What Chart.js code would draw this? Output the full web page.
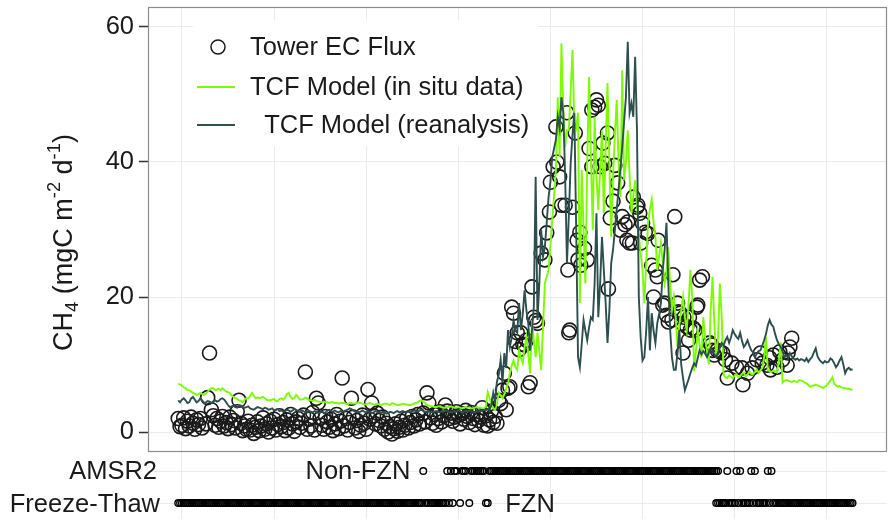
<!DOCTYPE html>
<html lang="en">
<head>
  <meta charset="UTF-8" />
  <title>CH4 flux: tower vs TCF model</title>
  <script src="https://cdn.jsdelivr.net/npm/chart.js@4.4.0/dist/chart.umd.min.js"></script>
  <style>
    html, body { margin: 0; padding: 0; background: #ffffff; }
    #fluxChart { display: block; }
  </style>
</head>
<body>
  <canvas id="fluxChart" width="896" height="521"></canvas>

  <script>
    // day index of the first model value; models are daily
    const modelStart = 0;

    // vertical grid positions (day index) and y grid values
    const gridDays = [2, 52, 102, 152, 202, 252, 302, 352];
    const fluxTicks = [0, 10, 20, 30, 40, 50, 60];

    // TCF model driven by in situ data (mgC m-2 d-1), one value per day
    const insituFlux = [
      7.2, 7.0, 6.9, 6.6, 6.5, 6.2, 6.2, 6.0, 5.8, 5.7,
      5.5, 5.6, 5.8, 5.6, 5.5, 5.7, 6.0, 6.3, 6.5, 6.5,
      6.2, 6.3, 6.4, 6.2, 6.5, 6.2, 6.0, 5.9, 5.8, 5.4,
      5.2, 5.0, 4.9, 4.7, 4.6, 4.4, 4.8, 5.0, 5.0, 5.3,
      5.8, 5.4, 5.0, 5.1, 5.0, 5.1, 5.2, 5.0, 4.8, 4.7,
      4.7, 4.8, 4.9, 4.6, 4.6, 4.9, 5.0, 4.8, 5.1, 5.6,
      5.8, 5.2, 4.9, 5.0, 5.5, 5.2, 4.8, 4.8, 4.9, 5.1,
      5.0, 4.7, 4.7, 4.6, 4.8, 4.6, 4.5, 4.5, 4.4, 4.5,
      4.4, 4.4, 4.3, 4.4, 4.4, 4.3, 4.3, 4.2, 4.3, 4.3,
      4.3, 4.2, 4.1, 4.3, 4.3, 4.2, 4.2, 4.3, 4.4, 4.3,
      4.2, 4.1, 4.1, 4.2, 4.3, 4.2, 4.1, 4.1, 4.2, 4.1,
      4.0, 4.1, 4.2, 4.2, 4.1, 4.0, 4.3, 4.2, 4.1, 4.0,
      4.0, 4.1, 4.2, 4.1, 4.1, 4.0, 4.0, 4.1, 4.2, 4.3,
      4.4, 4.6, 4.7, 4.5, 4.3, 4.0, 3.9, 3.8, 3.8, 3.7,
      3.7, 3.8, 3.8, 3.7, 3.6, 3.6, 3.7, 3.7, 3.8, 3.7,
      3.6, 3.6, 3.7, 3.6, 3.5, 3.6, 3.7, 3.6, 3.6, 3.5,
      3.5, 3.6, 3.7, 3.6, 3.6, 3.5, 3.5, 3.8, 5.9, 5.0,
      4.0, 3.5, 3.3, 4.2, 5.8, 5.4, 5.0, 5.6, 6.4, 7.2,
      8.7, 9.8, 10.6, 9.6, 9.2, 12.1, 11.0, 10.2, 12.5, 14.1,
      11.5, 8.7, 16.6, 13.5, 11.1, 14.7, 12.0, 9.2, 15.5, 22.0,
      23.0, 24.0, 27.5, 31.4, 35.0, 38.8, 49.6, 40.7, 57.6, 48.0,
      42.2, 44.7, 44.7, 50.5, 56.6, 45.8, 45.0, 47.3, 19.1, 38.8,
      30.0, 22.0, 40.0, 52.6, 40.5, 29.9, 46.7, 38.0, 32.9, 39.0,
      44.7, 32.4, 42.0, 51.7, 40.0, 28.9, 38.0, 44.0, 49.2, 40.0,
      34.8, 53.6, 37.3, 40.0, 44.7, 38.0, 32.4, 35.0, 37.3, 33.9,
      29.0, 26.5, 24.0, 19.1, 25.0, 31.0, 33.0, 34.4, 31.0, 28.9,
      24.0, 26.0, 28.0, 25.0, 22.0, 23.5, 27.4, 22.0, 18.1, 20.0,
      17.0, 12.6, 16.0, 18.0, 20.0, 17.0, 15.0, 19.0, 24.0, 20.0,
      9.0, 12.0, 15.0, 13.0, 11.0, 17.0, 14.0, 12.0, 10.0, 18.0,
      23.0, 16.0, 11.0, 14.0, 22.0, 17.0, 8.5, 8.1, 8.0, 8.4,
      8.2, 7.9, 8.4, 8.6, 8.1, 8.3, 8.6, 8.8, 8.2, 8.5,
      9.0, 8.6, 8.5, 8.9, 9.3, 8.8, 9.1, 9.5, 11.0, 14.1,
      9.2, 9.0, 8.9, 9.1, 9.0, 8.8, 10.5, 13.3, 7.3, 7.6,
      7.7, 7.6, 7.5, 7.4, 7.6, 7.5, 7.4, 7.7, 7.6, 7.5,
      7.3, 7.2, 7.0, 6.7, 6.8, 6.9, 7.0, 6.9, 6.8, 6.7,
      6.5, 6.7, 6.9, 7.3, 7.6, 8.1, 7.2, 6.9, 6.7, 6.8,
      6.6, 6.5, 6.5, 6.4, 6.4, 6.3, 6.3
    ];

    // TCF model driven by reanalysis, one value per day
    const reanalysisFlux = [
      4.7, 4.4, 4.8, 5.0, 4.7, 4.3, 4.4, 5.0, 5.2, 4.8,
      4.4, 4.6, 5.0, 4.7, 4.3, 4.4, 4.6, 4.5, 4.3, 4.5,
      4.7, 4.5, 4.6, 4.9, 5.0, 4.8, 4.4, 4.0, 3.7, 3.8,
      3.9, 3.7, 3.6, 3.8, 3.9, 3.7, 3.6, 3.7, 3.8, 3.5,
      3.4, 3.3, 3.5, 3.7, 3.6, 3.5, 3.4, 3.6, 3.5, 3.3,
      3.4, 3.5, 3.2, 3.3, 3.4, 3.1, 3.2, 3.0, 3.1, 3.3,
      3.2, 3.0, 3.2, 3.4, 3.3, 3.1, 3.0, 3.2, 3.1, 2.9,
      3.0, 3.1, 3.0, 2.9, 3.1, 3.0, 2.8, 2.9, 3.0, 2.8,
      2.9, 3.2, 3.3, 3.1, 3.0, 3.2, 3.0, 2.9, 3.1, 3.0,
      3.1, 3.2, 3.3, 3.5, 3.4, 3.2, 3.0, 3.1, 2.9, 3.0,
      3.2, 3.0, 2.9, 3.1, 3.0, 2.8, 2.9, 3.1, 3.0, 2.9,
      2.8, 3.0, 2.9, 2.7, 2.8, 3.0, 2.9, 2.8, 3.0, 3.1,
      2.9, 3.0, 3.1, 2.9, 3.0, 3.1, 2.9, 3.0, 3.2, 3.1,
      3.0, 3.2, 3.3, 3.1, 3.0, 2.9, 3.1, 3.0, 2.9, 3.0,
      3.1, 3.0, 2.9, 3.1, 3.0, 3.2, 3.1, 3.0, 2.9, 3.0,
      3.1, 3.0, 3.2, 3.1, 2.9, 3.0, 3.1, 3.0, 3.2, 3.1,
      3.0, 2.9, 3.1, 3.0, 3.2, 3.1, 3.3, 3.2, 3.4, 3.3,
      4.0, 5.8, 4.5, 7.5, 8.5, 10.7, 7.3, 11.7, 9.5, 15.1,
      12.6, 14.0, 16.6, 15.0, 14.7, 19.1, 15.1, 17.5, 21.0, 18.0,
      16.1, 12.1, 15.0, 18.5, 37.8, 16.6, 22.0, 29.9, 26.0, 27.4,
      31.0, 34.8, 37.0, 40.7, 42.0, 43.3, 46.7, 45.0, 49.6, 47.3,
      38.0, 25.0, 32.0, 39.8, 44.0, 47.3, 30.0, 11.1, 9.6, 13.0,
      16.6, 15.0, 13.6, 15.5, 17.0, 16.6, 22.0, 32.4, 17.0, 22.0,
      28.9, 24.0, 19.1, 13.2, 18.0, 25.0, 27.0, 29.9, 33.0, 35.9,
      39.0, 42.2, 46.0, 49.6, 57.8, 47.3, 48.7, 46.7, 55.6, 44.7,
      20.0, 14.0, 10.6, 11.1, 15.0, 20.0, 12.1, 17.6, 15.0, 13.2,
      16.1, 17.5, 19.1, 24.0, 27.0, 31.0, 22.0, 15.1, 11.0, 9.2,
      9.2, 11.7, 15.1, 10.0, 8.0, 6.2, 7.0, 7.8, 8.7, 9.5,
      10.2, 9.8, 11.0, 12.1, 11.5, 12.0, 11.6, 11.1, 11.8, 12.4,
      12.1, 11.5, 11.1, 11.8, 12.5, 13.2, 12.8, 13.6, 14.1, 13.2,
      14.0, 15.1, 14.5, 14.1, 13.8, 14.7, 13.5, 12.6, 13.0, 13.6,
      12.8, 12.1, 11.8, 11.1, 11.6, 12.0, 12.1, 12.8, 13.6, 14.5,
      15.8, 16.6, 15.9, 15.6, 14.5, 13.6, 13.0, 12.6, 12.0, 11.1,
      11.4, 11.0, 11.7, 11.2, 10.9, 10.7, 10.9, 10.6, 10.8, 10.7,
      10.5, 10.9, 10.4, 10.8, 11.1, 11.8, 12.4, 11.2, 10.7, 10.4,
      10.2, 10.5, 10.3, 10.4, 10.9, 10.7, 10.2, 9.6, 10.0, 10.6,
      11.1, 10.0, 8.7, 9.3, 9.5, 9.2, 9.3
    ];

    // eddy covariance tower observations: day index and flux
    const towerDay = [
      0, 1, 2, 3, 4, 5, 6, 7, 8, 9, 10, 11, 12, 13, 15, 16, 17, 18, 19, 20,
      21, 22, 23, 24, 25, 26, 27, 28, 29, 30, 31, 32, 33, 34, 35, 36, 37, 38, 39, 40,
      41, 42, 43, 44, 45, 46, 47, 48, 49, 50, 51, 52, 53, 54, 55, 56, 57, 58, 59, 60,
      61, 62, 63, 64, 65, 66, 67, 68, 69, 70, 71, 72, 73, 74, 75, 76, 77, 78, 79, 80,
      81, 82, 83, 84, 85, 86, 87, 88, 89, 90, 91, 92, 93, 94, 95, 96, 97, 98, 99, 100,
      101, 102, 103, 104, 105, 106, 107, 108, 109, 110, 111, 112, 113, 114, 115, 116, 117, 118, 119, 120,
      121, 122, 123, 124, 125, 126, 127, 128, 129, 130, 131, 133, 134, 135, 136, 137, 138, 139, 140, 141,
      142, 143, 144, 145, 146, 147, 148, 149, 150, 151, 152, 153, 154, 155, 156, 157, 158, 159, 160, 161,
      162, 163, 164, 165, 166, 167, 168, 169, 170, 171, 172, 173, 174, 175, 176, 177, 178, 179, 180, 181,
      182, 183, 184, 185, 186, 187, 188, 189, 190, 191, 192, 193, 194, 195, 197, 199, 200, 201.5, 202, 203.5,
      205, 205.5, 207, 208, 210, 211, 211.5, 212, 212.5, 214, 215.5, 216.5, 217, 218, 218.5, 220.5, 222, 223, 224.5, 224.5,
      226, 227, 228, 229, 230.5, 231.5, 233, 233.5, 234.5, 236, 237, 238.5, 240, 241, 242.5, 243.5, 244, 245, 246.5, 247,
      249, 249.5, 250.5, 251, 252, 253.5, 255, 257, 258, 259, 260, 260.5, 263, 264, 265, 266, 268, 268.5, 269.5, 271,
      271.5, 272.5, 273.5, 274, 274.5, 276, 277, 277.5, 278, 279.5, 280.5, 281.5, 282, 283, 284.5, 288.5, 289.5, 290, 291, 292.5,
      294, 295.5, 297, 298, 300.5, 303, 306, 306.5, 309, 311.5, 314, 316, 317, 319.5, 321, 321.5, 323, 325, 326.5, 328,
      330.5, 331, 332, 333
    ];
    const towerFlux = [
      2.0, 0.8, 1.0, 2.1, 0.5, 1.6, 0.9, 2.2, 1.3, 0.4, 1.8, 1.1, 2.0, 0.6, 1.2, 5.1, 11.7, 3.3, 2.4, 1.0,
      2.0, 0.7, 1.6, 2.3, 0.9, 1.4, 0.5, 2.2, 1.1, 1.7, 0.6, 3.0, 4.7, 1.3, 0.2, 0.9, 0.4, 1.6, 0.3, 1.0,
      -0.2, 0.7, 1.5, 0.2, 0.9, 2.1, 0.4, 1.2, 0.0, 1.6, 0.6, 1.9, 0.3, 1.1, 2.4, 0.8, 1.4, 0.2, 1.8, 0.6,
      2.6, 1.2, 0.1, 1.5, 2.0, 0.7, 1.3, 2.5, 8.9, 0.4, 1.9, 0.9, 2.9, 0.3, 5.0, 4.3, 2.0, 1.0, 0.4, 2.3,
      1.5, 0.7, 1.9, 0.2, 1.2, 2.6, 0.5, 1.6, 8.0, 0.9, 2.0, 0.3, 1.4, 5.0, 2.2, 0.6, 1.7, 0.1, 1.0, 2.5,
      1.3, 0.4, 6.3, 1.9, 4.3, 2.4, 1.2, 2.8, 1.7, 0.9, 2.2, 0.4, 1.3, 0.0, 0.8, -0.3, 0.5, 1.2, 0.1, 0.7,
      1.6, 0.3, 1.0, 2.0, 0.6, 1.4, 2.3, 0.9, 1.8, 2.6, 1.2, 2.8, 1.5, 5.8, 4.3, 2.1, 1.3, 2.6, 1.0, 2.0,
      3.0, 1.5, 2.4, 4.0, 3.1, 2.0, 2.8, 1.6, 2.2, 3.0, 2.5, 1.2, 2.7, 1.9, 3.2, 2.3, 1.4, 2.9, 2.0, 1.1,
      2.6, 1.7, 2.2, 3.6, 1.0, 2.4, 0.9, 1.8, 3.1, 1.4, 2.3, 1.3, 4.7, 4.2, 6.2, 8.7, 3.3, 6.5, 6.7, 18.5,
      17.6, 13.4, 14.7, 12.2, 14.7, 13.0, 12.9, 13.6, 6.7, 7.3, 21.5, 17.0, 16.5, 16.1, 26.5, 25.5, 29.5, 32.6, 37.0, 39.3,
      45.2, 40.0, 37.8, 33.6, 33.6, 47.3, 24.0, 14.7, 15.1, 33.3, 44.3, 28.4, 25.5, 29.6, 24.7, 27.2, 25.5, 42.0, 39.3, 47.7,
      48.1, 49.2, 48.4, 39.3, 42.8, 39.8, 44.3, 21.2, 31.7, 34.2, 39.5, 36.9, 29.9, 31.9, 30.7, 28.4, 31.1, 28.0, 28.0, 34.8,
      33.3, 33.6, 32.4, 28.0, 30.9, 29.6, 29.4, 24.7, 20.0, 24.0, 23.0, 28.4, 18.8, 19.1, 17.3, 16.3, 16.6, 23.3, 31.9, 19.1,
      17.8, 17.6, 16.1, 11.7, 17.0, 15.6, 13.6, 17.0, 15.1, 15.4, 15.1, 18.5, 18.8, 22.5, 23.0, 13.2, 12.9, 12.1, 11.4, 12.1,
      11.9, 11.7, 10.7, 8.0, 10.2, 9.6, 9.5, 7.0, 8.7, 9.5, 10.7, 11.7, 10.2, 9.9, 11.0, 9.2, 11.4, 9.6, 11.9, 10.7,
      9.9, 11.7, 12.6, 13.9
    ];

    // AMSR2 freeze-thaw state, as inclusive day-index ranges
    const thawedRanges = [
      [133, 133], [146, 146], [148, 148], [150, 151], [154, 156], [159, 166],
      [169, 293], [298, 298], [303, 303], [305, 305], [311, 311], [313, 313],
      [320, 320], [322, 322]
    ];
    const frozenRanges = [
      [0, 132], [134, 145], [147, 147], [149, 149], [153, 153], [158, 158],
      [167, 168], [292, 297], [299, 302], [304, 304], [306, 310], [312, 312],
      [314, 319], [321, 321], [323, 366]
    ];

    // rows of the freeze-thaw strip (value on the lower axis)
    const thawedRow = 1;
    const frozenRow = 0;

    const FONT = "'Liberation Sans', Arial, Helvetica, sans-serif";
    const TEXT_SIZE = 25.5;
    const INSITU_COLOR = '#7cfc00';
    const REANALYSIS_COLOR = '#2f4f4f';
    const INK = '#1a1a1a';

    const daily = (values) => values.map((v, i) => ({ x: modelStart + i, y: v }));

    const expandRanges = (ranges, row) => {
      const pts = [];
      ranges.forEach(([a, b]) => {
        for (let d = a; d <= b; d++) pts.push({ x: d, y: row });
      });
      return pts;
    };

    // y axis title with sub/superscripts, drawn bottom-to-top
    function drawFluxTitle(ctx, cx, cy, size) {
      const parts = [
        { t: 'CH' }, { t: '4', sub: true }, { t: ' (mgC m' },
        { t: '-2', sup: true }, { t: ' d' }, { t: '-1', sup: true }, { t: ')' }
      ];
      ctx.save();
      ctx.translate(cx, cy);
      ctx.rotate(-Math.PI / 2);
      ctx.fillStyle = INK;
      ctx.textBaseline = 'alphabetic';
      ctx.textAlign = 'left';
      let total = 0;
      parts.forEach(p => {
        p.size = (p.sub || p.sup) ? size * 0.68 : size;
        ctx.font = `${p.size}px ${FONT}`;
        p.w = ctx.measureText(p.t).width;
        total += p.w;
      });
      let x = -total / 2;
      const base = size * 0.36;
      parts.forEach(p => {
        ctx.font = `${p.size}px ${FONT}`;
        let dy = 0;
        if (p.sub) dy = size * 0.22;
        if (p.sup) dy = -size * 0.42;
        ctx.fillText(p.t, x, base + dy);
        x += p.w;
      });
      ctx.restore();
    }

    // keep the panel edges where the layout puts them, ignoring label overhang
    const fixedWidth = (s) => {
      s.width = 148;
      s.paddingTop = 0;
      s.paddingBottom = 0;
    };

    const panelDecor = {
      id: 'panelDecor',
      beforeDatasetsDraw(chart) {
        const { ctx, chartArea, scales } = chart;
        const left = chartArea.left;
        const top = scales.y.top;
        const ds = chart.data.datasets;

        // legend sits on a white patch inside the upper panel
        ctx.save();
        ctx.fillStyle = '#ffffff';
        ctx.fillRect(left + 45, top + 13, 345, 126);

        ctx.font = `${TEXT_SIZE}px ${FONT}`;
        ctx.fillStyle = INK;
        ctx.textBaseline = 'middle';
        ctx.textAlign = 'left';

        const markX = left + 70;
        const textX = left + 102;
        const rows = [top + 40, top + 80, top + 118];

        ctx.beginPath();
        ctx.arc(markX, rows[0], 7, 0, Math.PI * 2);
        ctx.strokeStyle = ds[2].borderColor;
        ctx.lineWidth = 1.5;
        ctx.stroke();
        ctx.fillText(ds[2].label, textX, rows[0] + 1);

        [ds[1], ds[0]].forEach((d, k) => {
          const yy = rows[k + 1];
          ctx.beginPath();
          ctx.moveTo(markX - 21, yy);
          ctx.lineTo(markX + 17, yy);
          ctx.strokeStyle = d.borderColor;
          ctx.lineWidth = 2;
          ctx.stroke();
          ctx.fillText(d.label, textX, yy + 1);
        });
        ctx.restore();
      },
      afterDatasetsDraw(chart) {
        const { ctx, scales } = chart;
        const { x, y } = scales;
        ctx.save();
        ctx.strokeStyle = '#8c8c8c';
        ctx.lineWidth = 1.2;
        ctx.strokeRect(x.left + 0.5, y.top + 0.5, x.right - x.left - 1, y.bottom - y.top - 1);
        ctx.restore();
      },
      afterDraw(chart) {
        const { ctx, chartArea, scales } = chart;
        const { x, y, y2 } = scales;

        drawFluxTitle(ctx, 62, (y.top + y.bottom) / 2 + 13, 27);

        ctx.save();
        ctx.fillStyle = INK;
        ctx.font = `${TEXT_SIZE}px ${FONT}`;
        ctx.textBaseline = 'middle';

        // strip row names
        ctx.textAlign = 'right';
        ctx.fillText('AMSR2', chartArea.left + 9, y2.getPixelForValue(thawedRow) + 1);
        ctx.fillText('Freeze-Thaw', chartArea.left + 12, y2.getPixelForValue(frozenRow) + 2);

        // state labels inside the strip
        ctx.fillText('Non-FZN', x.getPixelForValue(126), y2.getPixelForValue(thawedRow) + 1);
        ctx.textAlign = 'left';
        ctx.fillText('FZN', x.getPixelForValue(177.5), y2.getPixelForValue(frozenRow) + 2);
        ctx.restore();
      }
    };

    const ctx = document.getElementById('fluxChart').getContext('2d');

    new Chart(ctx, {
      type: 'scatter',
      data: {
        datasets: [
          {
            label: '  TCF Model (reanalysis)',
            data: daily(reanalysisFlux),
            showLine: true,
            borderColor: REANALYSIS_COLOR,
            borderWidth: 1.9,
            pointRadius: 0,
            tension: 0,
            yAxisID: 'y',
            order: 0
          },
          {
            label: 'TCF Model (in situ data)',
            data: daily(insituFlux),
            showLine: true,
            borderColor: INSITU_COLOR,
            borderWidth: 1.9,
            pointRadius: 0,
            tension: 0,
            yAxisID: 'y',
            order: 1
          },
          {
            label: 'Tower EC Flux',
            data: towerDay.map((d, i) => ({ x: d, y: towerFlux[i] })),
            borderColor: INK,
            backgroundColor: 'rgba(0,0,0,0)',
            borderWidth: 1.6,
            pointRadius: 7,
            yAxisID: 'y',
            order: 2
          },
          {
            label: 'Non-FZN',
            data: expandRanges(thawedRanges, thawedRow),
            borderColor: '#000000',
            backgroundColor: 'rgba(0,0,0,0)',
            borderWidth: 1.4,
            pointRadius: 3.3,
            yAxisID: 'y2',
            order: 3
          },
          {
            label: 'FZN',
            data: expandRanges(frozenRanges, frozenRow),
            borderColor: '#000000',
            backgroundColor: 'rgba(0,0,0,0)',
            borderWidth: 1.4,
            pointRadius: 3.3,
            yAxisID: 'y2',
            order: 4
          }
        ]
      },
      options: {
        responsive: false,
        animation: false,
        events: [],
        layout: { autoPadding: false, padding: { top: 7, right: 9, bottom: 2, left: 0 } },
        plugins: {
          legend: { display: false },
          tooltip: { enabled: false }
        },
        scales: {
          x: {
            type: 'linear',
            min: -16.4,
            max: 384.7,
            afterBuildTicks: (s) => { s.ticks = gridDays.map(v => ({ value: v })); },
            afterFit: (s) => { s.height = 0; s.paddingLeft = 0; s.paddingRight = 0; },
            ticks: { display: false },
            grid: { color: '#ebebeb', lineWidth: 1, drawTicks: false },
            border: { display: false }
          },
          y: {
            type: 'linear',
            position: 'left',
            stack: 'panels',
            stackWeight: 445,
            weight: 1,
            min: -2.96,
            max: 62.96,
            afterBuildTicks: (s) => { s.ticks = fluxTicks.map(v => ({ value: v })); },
            afterFit: fixedWidth,
            ticks: {
              callback: (v) => (v % 20 === 0 ? v : ''),
              color: INK,
              font: { family: FONT, size: TEXT_SIZE },
              padding: 5
            },
            grid: {
              color: '#ebebeb',
              lineWidth: 1,
              tickLength: 9,
              tickWidth: 1.5,
              tickColor: (c) => (c.tick && c.tick.value % 20 === 0 ? '#333333' : 'rgba(0,0,0,0)')
            },
            border: { display: false }
          },
          y2: {
            type: 'linear',
            position: 'left',
            stack: 'panels',
            stackWeight: 67,
            weight: 0,
            min: -0.5,
            max: 1.594,
            afterBuildTicks: (s) => { s.ticks = [{ value: frozenRow }, { value: thawedRow }]; },
            afterFit: fixedWidth,
            ticks: { display: false },
            grid: { color: '#ebebeb', lineWidth: 1, drawTicks: false },
            border: { display: false }
          }
        }
      },
      plugins: [panelDecor]
    });
  </script>
</body>
</html>
